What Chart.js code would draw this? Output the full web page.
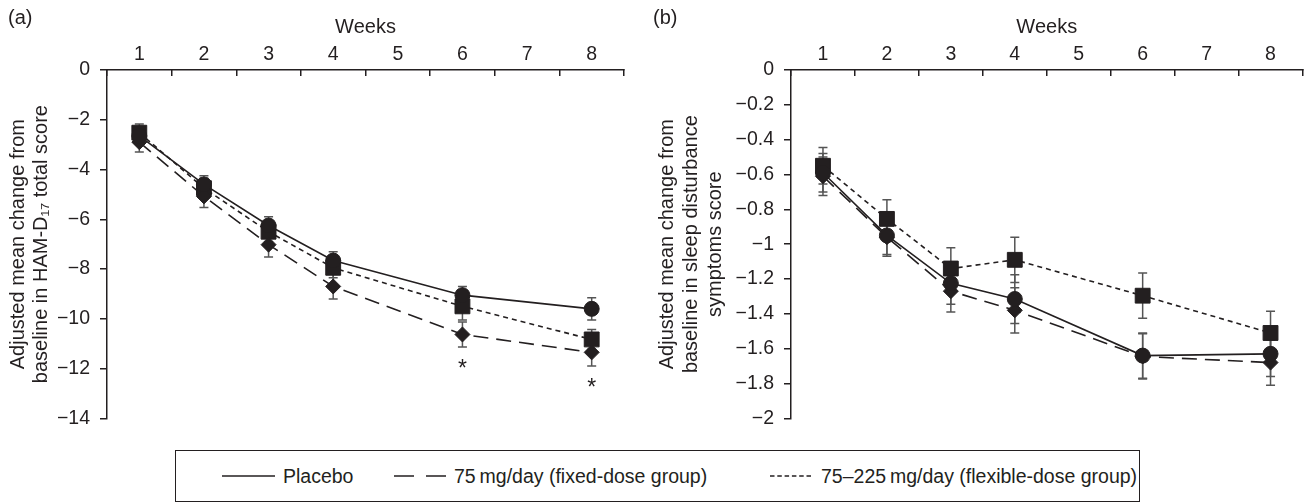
<!DOCTYPE html>
<html>
<head>
<meta charset="utf-8">
<script src="https://cdn.jsdelivr.net/npm/chart.js@4.4.1/dist/chart.umd.min.js"></script>
<style>
  body { margin: 0; background: #fff; width: 1314px; height: 504px; position: relative; overflow: hidden;
         font-family: "Liberation Sans", Arial, sans-serif; color: #231f20; }
  #chartA { position: absolute; left: 0; top: 0; }
  #chartB { position: absolute; left: 645px; top: 0; }
  #legend { position: absolute; left: 175px; top: 450px; width: 963px; height: 50px;
            border: 1.5px solid #231f20; }
  #legend .item { position: absolute; top: 0; height: 100%; display: flex; align-items: center;
                  font-size: 19.5px; white-space: nowrap; }
  #legend svg { margin-right: 8px; }
</style>
</head>
<body>
<canvas id="chartA" width="645" height="440"></canvas>
<canvas id="chartB" width="669" height="440"></canvas>
<div id="legend">
  <div class="item" style="left:46px"><svg width="53" height="6"><line x1="0" y1="3" x2="53" y2="3" stroke="#231f20" stroke-width="1.5"/></svg>Placebo</div>
  <div class="item" style="left:218px"><svg width="52" height="6"><line x1="0" y1="3" x2="52" y2="3" stroke="#231f20" stroke-width="1.5" stroke-dasharray="20 12"/></svg>75&thinsp;mg/day (fixed-dose group)</div>
  <div class="item" style="left:594px"><svg width="43" height="6"><line x1="0" y1="3" x2="43" y2="3" stroke="#231f20" stroke-width="1.5" stroke-dasharray="4.5 2.8"/></svg>75–225&thinsp;mg/day (flexible-dose group)</div>
</div>
<script>
const ink = '#231f20';
const family = '"Liberation Sans", Arial, sans-serif';

const weeks = ['1', '2', '3', '4', '5', '6', '7', '8'];
const seriesNames = ['Placebo', '75 mg/day (fixed-dose group)', '75–225 mg/day (flexible-dose group)'];

// (a) HAM-D17 total score, adjusted mean change from baseline (null = no visit that week)
const hamPlacebo = [-2.65, -4.6, -6.25, -7.66, null, -9.05, null, -9.6];
const hamFixed = [-2.9, -5.08, -7.02, -8.7, null, -10.63, null, -11.35];
const hamFlex = [-2.52, -4.75, -6.5, -7.95, null, -9.5, null, -10.83];
const hamPlaceboErr = [0.3, 0.35, 0.35, 0.35, null, 0.35, null, 0.45];
const hamFixedErr = [0.4, 0.45, 0.5, 0.5, null, 0.5, null, 0.55];
const hamFlexErr = [0.35, 0.4, 0.4, 0.4, null, 0.55, null, 0.4];
const hamStars = ['', '', '', '', '', '*', '', '*'];

// (b) sleep disturbance symptoms score
const sleepPlacebo = [-0.59, -0.95, -1.225, -1.315, null, -1.64, null, -1.63];
const sleepFixed = [-0.61, -0.96, -1.27, -1.38, null, -1.645, null, -1.68];
const sleepFlex = [-0.55, -0.855, -1.14, -1.09, null, -1.296, null, -1.51];
const sleepPlaceboErr = [0.11, 0.11, 0.12, 0.14, null, 0.13, null, 0.13];
const sleepFixedErr = [0.11, 0.11, 0.12, 0.13, null, 0.13, null, 0.13];
const sleepFlexErr = [0.105, 0.11, 0.12, 0.13, null, 0.13, null, 0.125];
const sleepStars = ['', '', '', '', '', '', '', ''];

function fmtTick(v) {
  const r = Math.round(v * 10) / 10;
  if (r === 0) return '0';
  return (r < 0 ? '\u2212' : '') + Math.abs(r);
}

function makePanel(id, opts) {
  const errs = opts.errors;

  const errorBars = {
    id: 'errorBars',
    beforeDatasetsDraw(chart) {
      const ctx = chart.ctx;
      const ys = chart.scales.y;
      ctx.save();
      ctx.strokeStyle = '#555';
      ctx.lineWidth = 1.5;
      for (let d = 0; d < chart.data.datasets.length; d++) {
        const meta = chart.getDatasetMeta(d);
        const vals = chart.data.datasets[d].data;
        for (let i = 0; i < vals.length; i++) {
          if (vals[i] === null || errs[d][i] === null) continue;
          const x = meta.data[i].x;
          const yTop = ys.getPixelForValue(vals[i] + errs[d][i]);
          const yBot = ys.getPixelForValue(vals[i] - errs[d][i]);
          ctx.beginPath();
          ctx.moveTo(x, yTop); ctx.lineTo(x, yBot);
          ctx.moveTo(x - 4.5, yTop); ctx.lineTo(x + 4.5, yTop);
          ctx.moveTo(x - 4.5, yBot); ctx.lineTo(x + 4.5, yBot);
          ctx.stroke();
        }
      }
      ctx.restore();
    },
    afterDraw(chart) {
      const ctx = chart.ctx;
      const ys = chart.scales.y;
      ctx.save();
      ctx.fillStyle = ink;
      ctx.font = '20px ' + family;
      ctx.textBaseline = 'middle';
      ctx.textAlign = 'left';
      ctx.fillText(opts.panel, 8, 18);
      // significance marks under the fixed-dose bars
      const meta = chart.getDatasetMeta(1);
      const vals = chart.data.datasets[1].data;
      ctx.font = '23px ' + family;
      ctx.textAlign = 'center';
      ctx.textBaseline = 'alphabetic';
      for (let i = 0; i < opts.stars.length; i++) {
        if (!opts.stars[i]) continue;
        const y = ys.getPixelForValue(vals[i] - errs[1][i]) + 13;
        ctx.fillText(opts.stars[i], meta.data[i].x, y + 16);
      }
      ctx.restore();
    }
  };

  const base = {
    borderColor: ink,
    backgroundColor: ink,
    pointBorderColor: ink,
    pointBackgroundColor: ink,
    borderWidth: 1.6,
    pointBorderWidth: 1,
    spanGaps: true,
    tension: 0
  };

  return new Chart(document.getElementById(id), {
    type: 'line',
    data: {
      labels: weeks,
      datasets: [
        Object.assign({}, base, { label: seriesNames[0], data: opts.values[0], pointStyle: 'circle', pointRadius: 7.5 }),
        Object.assign({}, base, { label: seriesNames[1], data: opts.values[1], pointStyle: 'rectRot', pointRadius: 7.5, borderDash: [15, 8] }),
        Object.assign({}, base, { label: seriesNames[2], data: opts.values[2], pointStyle: 'rect', pointRadius: 10.5, borderDash: [5, 4] })
      ]
    },
    options: {
      responsive: false,
      animation: false,
      events: [],
      layout: { padding: { left: 0, right: opts.padRight, top: 0, bottom: opts.padBottom } },
      plugins: {
        legend: { display: false },
        tooltip: { enabled: false }
      },
      scales: {
        x: {
          type: 'category',
          position: 'top',
          offset: true,
          grid: { offset: true, drawOnChartArea: false, tickLength: -6, color: ink, lineWidth: 1.5 },
          border: { display: true, color: ink, width: 1.5 },
          ticks: { color: ink, font: { family: family, size: 19.5 }, padding: 9.5, maxRotation: 0 },
          title: { display: true, text: 'Weeks', color: ink, font: { family: family, size: 20 }, padding: { top: 15, bottom: 0 } },
          afterFit(s) { s.height = 70; }
        },
        y: {
          min: opts.min,
          max: 0,
          grid: { drawOnChartArea: false, tickLength: 7, color: ink, lineWidth: 1.5 },
          border: { display: true, color: ink, width: 1.5 },
          ticks: { stepSize: opts.step, color: ink, padding: 10, font: { family: family, size: 19.5 }, callback: fmtTick },
          title: { display: true, text: opts.title, color: ink, font: { family: family, size: 20, lineHeight: opts.titleLine }, padding: { top: opts.titlePad, bottom: 0 } },
          afterFit(s) { s.width = opts.yWidth; }
        }
      }
    },
    plugins: [errorBars]
  });
}

makePanel('chartA', {
  panel: '(a)',
  values: [hamPlacebo, hamFixed, hamFlex],
  errors: [hamPlaceboErr, hamFixedErr, hamFlexErr],
  stars: hamStars,
  min: -14,
  step: 2,
  title: ['Adjusted mean change from', 'baseline in HAM-D\u2081\u2087 total score'],
  titleLine: 1.15,
  titlePad: 7,
  yWidth: 107,
  padRight: 21,
  padBottom: 17
});

makePanel('chartB', {
  panel: '(b)',
  values: [sleepPlacebo, sleepFixed, sleepFlex],
  errors: [sleepPlaceboErr, sleepFixedErr, sleepFlexErr],
  stars: sleepStars,
  min: -2,
  step: 0.2,
  title: ['Adjusted mean change from', 'baseline in sleep disturbance', 'symptoms score'],
  titleLine: 1.2,
  titlePad: 10,
  yWidth: 146,
  padRight: 4,
  padBottom: 15
});
</script>
</body>
</html>
